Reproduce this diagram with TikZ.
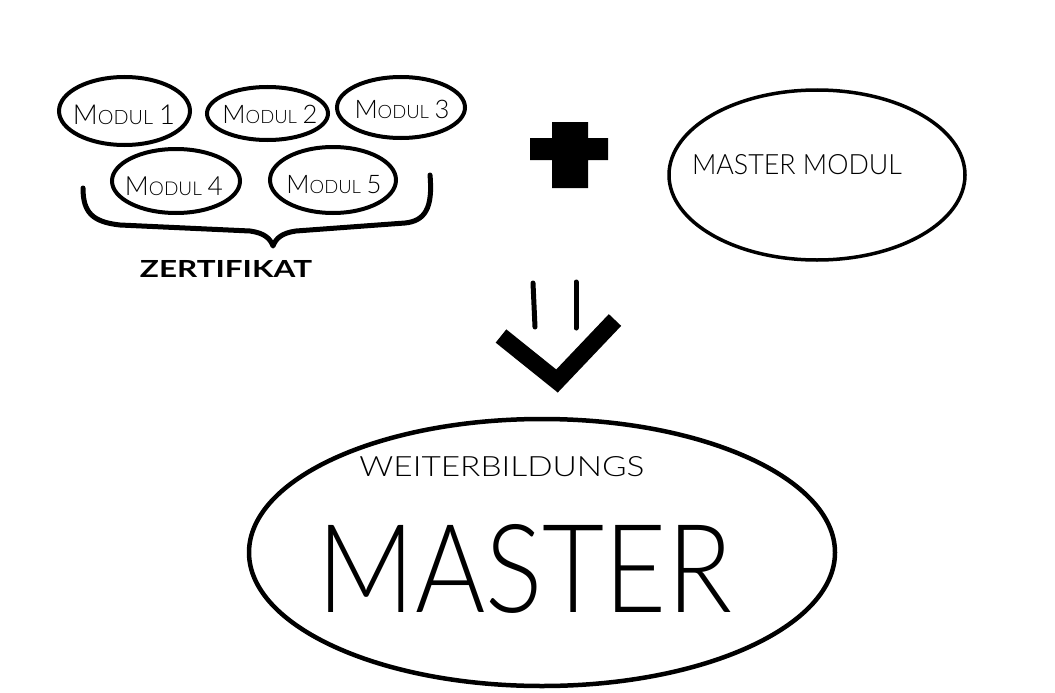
\documentclass[tikz,border=0pt]{standalone}
\usepackage{fontspec}
\usepackage{graphicx}
\usetikzlibrary{shapes.geometric}
\newfontfamily\hwlight{Lato Light}
\newfontfamily\hwbold{Lato Bold}
\newcommand\modlabel[2]{\resizebox{#1}{!}{\hwlight M\scalebox{0.72}{ODUL}\hspace{0.22em}#2}}
\newcommand\fitlabel[4]{\resizebox{#1}{#2}{#3#4}}
\begin{document}
\begin{tikzpicture}[x=1pt,y=-1pt,
  ring/.style={ellipse, draw, line width=4pt, inner sep=0pt, outer sep=0pt},
  lbl/.style={inner sep=0pt, outer sep=0pt, anchor=center},
  ink/.style={line width=#1, line cap=round, line join=round},
  ]
\useasboundingbox (0,0) rectangle (1055,693);
\fill[white] (0,0) rectangle (1055,693);

% module ellipses
\node[ring, minimum width=131pt, minimum height=68pt] (m1) at (124.5,111) {};
\node[ring, minimum width=121pt, minimum height=53pt] (m2) at (267.5,113.5) {};
\node[ring, minimum width=128pt, minimum height=61pt] (m3) at (401,107.5) {};
\node[ring, minimum width=128pt, minimum height=64pt] (m4) at (176,181) {};
\node[ring, minimum width=126pt, minimum height=66pt] (m5) at (333,180) {};

% module labels
\node[lbl] (t1) at (124,115) {\modlabel{102pt}{1}};
\node[lbl] (t2) at (270,114) {\modlabel{95pt}{2}};
\node[lbl] (t3) at (402,109) {\modlabel{95pt}{3}};
\node[lbl] (t4) at (174,186) {\modlabel{98pt}{4}};
\node[lbl] (t5) at (334,185) {\modlabel{95pt}{5}};

% brace
\coordinate (bl) at (83,188);
\coordinate (bt) at (273,246);
\coordinate (br) at (430,175);
\draw[ink=5pt] (bl) .. controls (83,212) and (92,222) .. (120,225)
  -- (250,231) .. controls (264,233) and (270,238) .. (bt)
  .. controls (276,238) and (282,233) .. (296,231)
  -- (405,223) .. controls (425,221) and (433,208) .. (br);
\node[lbl] (zert) at (226,268.5) {\fitlabel{172pt}{17pt}{\hwbold}{ZERTIFIKAT}};

% plus sign
\fill[black] (552,122) -- (588,122) -- (588,138) -- (608,138) -- (608,160)
  -- (588,160) -- (588,188) -- (552,188) -- (552,160) -- (530,160)
  -- (530,138) -- (552,138) -- cycle;

% master modul
\node[ring, line width=3.5pt, minimum width=296pt, minimum height=170pt] (mm) at (817,175) {};
\node[lbl] (mmt) at (797,165) {\fitlabel{210pt}{20pt}{\hwlight}{MASTER MODUL}};

% implication arrow
\draw[ink=5pt] (533,283) -- (535,327);
\draw[ink=5pt] (576,282) -- (576,328);
\draw[line width=17pt, line cap=butt, line join=miter] (501,336) -- (557,381) -- (615,320);

% big ellipse
\node[ring, line width=4.5pt, minimum width=586pt, minimum height=267pt] (big) at (542,552.5) {};
\node[lbl] (wb) at (502,467) {\fitlabel{285pt}{20pt}{\hwlight}{WEITERBILDUNGS}};
\node[lbl] (ms) at (525,569) {\fitlabel{414pt}{88pt}{\hwlight}{MASTER}};
\end{tikzpicture}
\end{document}
